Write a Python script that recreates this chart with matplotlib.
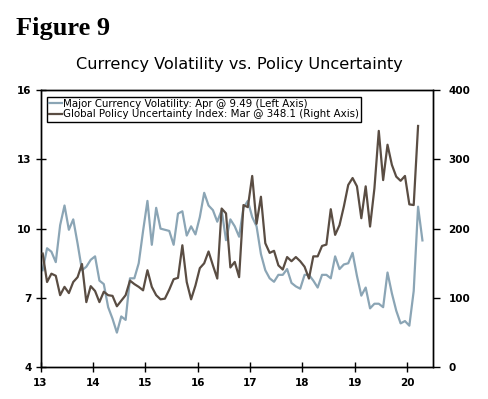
import numpy as np
import matplotlib
matplotlib.use("Agg")
import matplotlib.pyplot as plt

# monthly, Jan 2013 - Apr 2020
volatility = [
    8.2, 9.15, 9.0, 8.55, 10.15, 11.0, 9.95, 10.4, 9.35, 8.2, 8.35, 8.65,
    8.8, 7.75, 7.6, 6.6, 6.1, 5.5, 6.2, 6.05, 7.85, 7.85, 8.5, 9.9,
    11.2, 9.3, 10.9, 10.0, 9.95, 9.9, 9.3, 10.65, 10.75, 9.7, 10.1, 9.75,
    10.5, 11.55, 11.0, 10.8, 10.3, 10.8, 9.5, 10.4, 10.1, 9.65, 10.9, 11.2,
    10.5, 10.1, 8.9, 8.2, 7.85, 7.7, 8.0, 8.0, 8.25, 7.65, 7.5, 7.4,
    8.0, 8.0, 7.75, 7.45, 8.0, 8.0, 7.85, 8.8, 8.25, 8.45, 8.5, 8.95,
    7.95, 7.1, 7.45, 6.55, 6.75, 6.75, 6.6, 8.1, 7.2, 6.45, 5.9, 6.0,
    5.8, 7.3, 10.95, 9.49,
]

# monthly, Jan 2013 - Mar 2020
uncertainty = [
    164, 123, 135, 132, 104, 116, 107, 123, 130, 149, 94, 117,
    110, 94, 109, 104, 103, 88, 96, 104, 125, 120, 116, 111,
    140, 116, 104, 98, 99, 112, 127, 129, 176, 123, 98, 118,
    143, 150, 167, 147, 128, 229, 222, 144, 152, 130, 234, 231,
    276, 207, 246, 179, 165, 168, 147, 141, 159, 153, 159, 153,
    145, 128, 160, 160, 175, 177, 228, 191, 205, 232, 263, 273,
    261, 215, 261, 203, 258, 341, 270, 321, 292, 275, 269, 276,
    235, 234, 348.1,
]

year_ticks = [2013, 2014, 2015, 2016, 2017, 2018, 2019, 2020]
year_labels = ["13", "14", "15", "16", "17", "18", "19", "20"]

gray = "#8ba5b5"
brown = "#5a4d43"

# mid-month positions in decimal years
x_vol = 2013 + (np.arange(len(volatility)) + 0.5) / 12
x_unc = 2013 + (np.arange(len(uncertainty)) + 0.5) / 12

fig = plt.figure(figsize=(4.88, 3.99), dpi=100)
ax = fig.add_axes([0.083, 0.0795, 0.805, 0.695])
ax2 = ax.twinx()

l1, = ax.plot(x_vol, volatility, color=gray, lw=1.6, zorder=2,
              label="Major Currency Volatility: Apr @ 9.49 (Left Axis)")
l2, = ax2.plot(x_unc, uncertainty, color=brown, lw=1.6, zorder=3,
               label="Global Policy Uncertainty Index: Mar @ 348.1 (Right Axis)")

ax.set_xlim(2013, 2020.5)
ax.set_ylim(4, 16)
ax.set_yticks([4, 7, 10, 13, 16])
ax2.set_ylim(0, 400)
ax2.set_yticks([0, 100, 200, 300, 400])
ax.set_xticks(year_ticks)
ax.set_xticklabels(year_labels)

for a in (ax, ax2):
    for s in a.spines.values():
        s.set_linewidth(1.0)
        s.set_color("black")

ax.tick_params(axis="y", direction="inout", length=7, width=1, labelsize=7.5, pad=3)
ax.tick_params(axis="x", direction="inout", length=7, width=1, labelsize=7.5, pad=4)
ax2.tick_params(axis="y", direction="out", length=5, width=1, labelsize=7.5, pad=6)
for lab in ax.get_xticklabels() + ax.get_yticklabels() + ax2.get_yticklabels():
    lab.set_fontweight("semibold")

leg = ax2.legend(handles=[l1, l2], loc="upper left", bbox_to_anchor=(0.0165, 0.975),
                 borderaxespad=0, fontsize=7.4, handlelength=1.3, handletextpad=0.1,
                 borderpad=0.2, labelspacing=0.05, fancybox=False, framealpha=1,
                 edgecolor="black")
leg.get_frame().set_linewidth(1.0)

fig.text(0.033, 0.912, "Figure 9", fontsize=19, fontweight="bold",
         family="Liberation Serif", va="baseline", ha="left")
fig.text(0.49, 0.827, "Currency Volatility vs. Policy Uncertainty", fontsize=11.6,
         va="baseline", ha="center")

fig.savefig("out.png", dpi=100)
